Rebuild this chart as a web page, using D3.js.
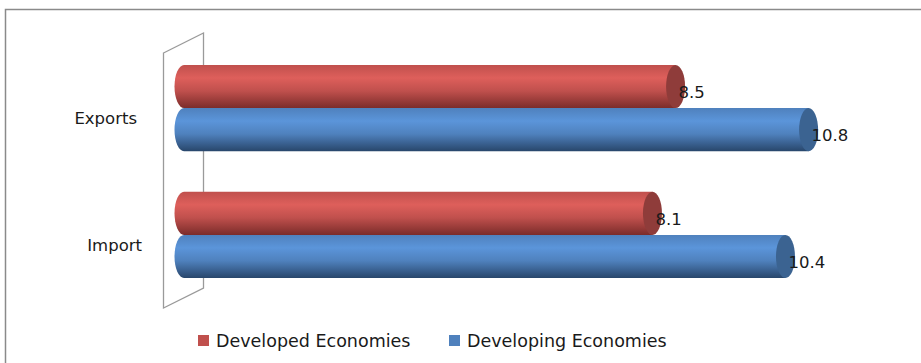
<!DOCTYPE html>
<html>
<head>
<meta charset="utf-8">
<script src="https://cdn.jsdelivr.net/npm/d3@7/dist/d3.min.js"></script>
<style>
  html, body { margin: 0; padding: 0; background: #fff; }
  svg { display: block; }
  text { font-family: "DejaVu Sans", "Liberation Sans", sans-serif; fill: #1a1a1a; }
</style>
</head>
<body>
<svg id="chart" width="921" height="363"></svg>
<script>
// Growth by trade flow and economy group
const categories = ["Exports", "Import"];
const seriesNames = ["Developed Economies", "Developing Economies"];
const developed = [8.5, 8.1];
const developing = [10.8, 10.4];
const xDomain = [0, 12];

const seriesValues = [developed, developing];
const palette = [
  { light: "#de5f5b", mid: "#c0504d", dark: "#7b2c2a", cap: "#8f3c3a", key: "#c0504d" },
  { light: "#5b95da", mid: "#4f81bd", dark: "#28466b", cap: "#3b6391", key: "#4f81bd" }
];

const svg = d3.select("#chart");
const defs = svg.append("defs");

// cylinder shading: light band near the top, darker toward the bottom
palette.forEach((c, i) => {
  const g = defs.append("linearGradient")
    .attr("id", "cyl" + i).attr("x1", 0).attr("y1", 0).attr("x2", 0).attr("y2", 1);
  g.append("stop").attr("offset", "0%").attr("stop-color", c.mid);
  g.append("stop").attr("offset", "30%").attr("stop-color", c.light);
  g.append("stop").attr("offset", "60%").attr("stop-color", c.mid);
  g.append("stop").attr("offset", "100%").attr("stop-color", c.dark);
});

// outer frame (top and left edges)
svg.append("path")
  .attr("d", "M5.5,363 L5.5,9.5 L921,9.5")
  .attr("fill", "none").attr("stroke", "#8a8a8a").attr("stroke-width", 1.5);

const x = d3.scaleLinear().domain(xDomain).range([184, 878]);
const y0 = d3.scaleBand().domain(categories).range([65, 278]).paddingInner(0.32).paddingOuter(0);
const y1 = d3.scaleBand().domain(seriesNames).range([0, y0.bandwidth()]);

// back wall of the 3-D plot, drawn as a slanted panel
svg.append("path")
  .attr("d", "M163.5,53 L203.5,33 L203.5,288 L163.5,308 Z")
  .attr("fill", "none").attr("stroke", "#9a9a9a").attr("stroke-width", 1.3);

// category labels
svg.append("g").selectAll("text")
  .data(categories)
  .join("text")
  .attr("x", d => d === "Import" ? 142 : 137)
  .attr("y", d => y0(d) + y0.bandwidth() / 2 + 10)
  .attr("dy", "0.35em")
  .attr("text-anchor", "end")
  .attr("font-size", 16.5)
  .text(d => d);

const rx = 9.5;
const bars = [];
categories.forEach((cat, ci) => {
  seriesNames.forEach((s, si) => {
    bars.push({ cat, s, si, v: seriesValues[si][ci] });
  });
});

const barG = svg.append("g").selectAll("g").data(bars).join("g");

// cylinder body with rounded left side
barG.append("path")
  .attr("d", d => {
    const top = y0(d.cat) + y1(d.s);
    const h = y1.bandwidth();
    const ry = h / 2;
    const x0 = x(0), xe = x(d.v);
    return `M${xe},${top} L${x0},${top} A${rx},${ry} 0 0 0 ${x0},${top + h} L${xe},${top + h} Z`;
  })
  .attr("fill", d => `url(#cyl${d.si})`);

// end cap
barG.append("ellipse")
  .attr("cx", d => x(d.v))
  .attr("cy", d => y0(d.cat) + y1(d.s) + y1.bandwidth() / 2)
  .attr("rx", rx)
  .attr("ry", y1.bandwidth() / 2)
  .attr("fill", d => palette[d.si].cap);

// value labels
barG.append("text")
  .attr("x", d => x(d.v) + 3)
  .attr("y", d => y0(d.cat) + y1(d.s) + y1.bandwidth() / 2 + 6)
  .attr("dy", "0.35em")
  .attr("font-size", 16.5)
  .text(d => d.v);

// legend
const legend = svg.append("g");
const legendX = [198, 449];
seriesNames.forEach((s, i) => {
  legend.append("rect")
    .attr("x", legendX[i]).attr("y", 335).attr("width", 11).attr("height", 11)
    .attr("fill", palette[i].key);
  legend.append("text")
    .attr("x", legendX[i] + 18).attr("y", 341)
    .attr("dy", "0.35em")
    .attr("font-size", 17.5)
    .text(s);
});
</script>
</body>
</html>
